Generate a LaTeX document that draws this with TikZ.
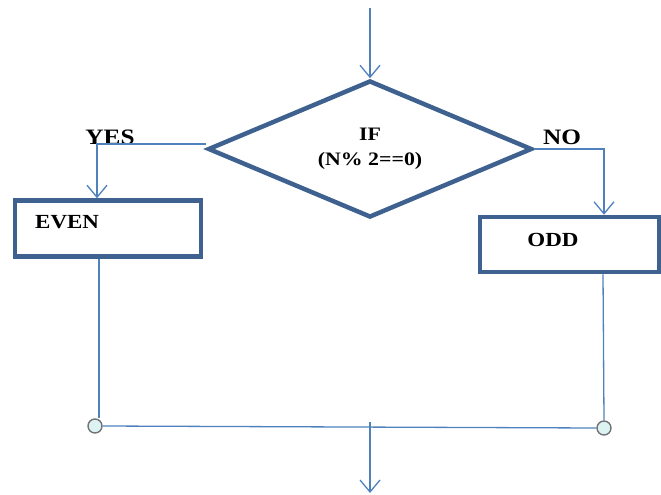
\documentclass[tikz,border=0pt]{standalone}
\usepackage{fontspec}
\usetikzlibrary{shapes.geometric,arrows.meta}
\newfontfamily\flowfont[FakeStretch=1.15]{Liberation Serif}
\definecolor{thinblue}{HTML}{4F81BD}
\definecolor{thickblue}{HTML}{3E6190}
\definecolor{termfill}{HTML}{DDF2F2}
\tikzset{
  decision/.style={diamond, draw=thickblue, line width=4.5pt, aspect=2.36,
    minimum width=324pt, minimum height=137pt, inner sep=0pt,
    align=center, font=\flowfont\bfseries\fontsize{19}{24}\selectfont},
  procbox/.style={rectangle, draw=thickblue, line width=4.5pt, inner sep=0pt},
  lbl/.style={font=\flowfont\bfseries\fontsize{20}{22}\selectfont, inner sep=0pt, text=black},
  branch/.style={font=\flowfont\bfseries\fontsize{22}{24}\selectfont, inner sep=0pt, text=black},
  flow/.style={draw=thinblue, line width=1.3pt},
  flowarrow/.style={flow, -{Straight Barb[length=12pt,width=20pt,line width=1.3pt]}},
  joint/.style={circle, draw=gray!90!black, fill=termfill, line width=1.4pt,
    minimum size=14pt, inner sep=0pt}
}
\begin{document}
\begin{tikzpicture}[x=1pt,y=-1pt]
  \useasboundingbox (0,0) rectangle (661,495);

  % decision
  \node[decision] (dia) at (370,149) {IF\\[1pt](N\% 2==0)};

  % process boxes
  \node[procbox, minimum width=186pt, minimum height=56pt] (even) at (108,228.5) {};
  \node[lbl, anchor=west] (evenTxt) at (35,222) {EVEN};
  \node[procbox, minimum width=179pt, minimum height=55pt] (odd) at (569.5,244.5) {};
  \node[lbl] (oddTxt) at (553,240) {ODD};

  % branch labels
  \node[branch] (yes) at (110,137) {YES};
  \node[branch] (no) at (562,137) {NO};

  % merge points
  \node[joint] (jl) at (95,426) {};
  \node[joint] (jr) at (604,428) {};

  % free ends
  \coordinate (entry) at (370,8);
  \coordinate (merge) at (370,422);
  \coordinate (exit) at (370,493);

  % connectors
  \draw[flowarrow] (entry) -- (dia.north);
  \draw[flowarrow] ([yshift=5pt]dia.west) -| ([xshift=-11pt]even.north);
  \draw[flowarrow] (dia.east) -| ([xshift=34.5pt]odd.north);
  \draw[flow] (even.south -| 99,0) -- (jl.north -| 99,0);
  \draw[flow] ([xshift=33.5pt]odd.south) -- (jr.north);
  \draw[flow] (jl.east) -- (jr.west);
  \draw[flowarrow] (merge) -- (exit);
\end{tikzpicture}
\end{document}
